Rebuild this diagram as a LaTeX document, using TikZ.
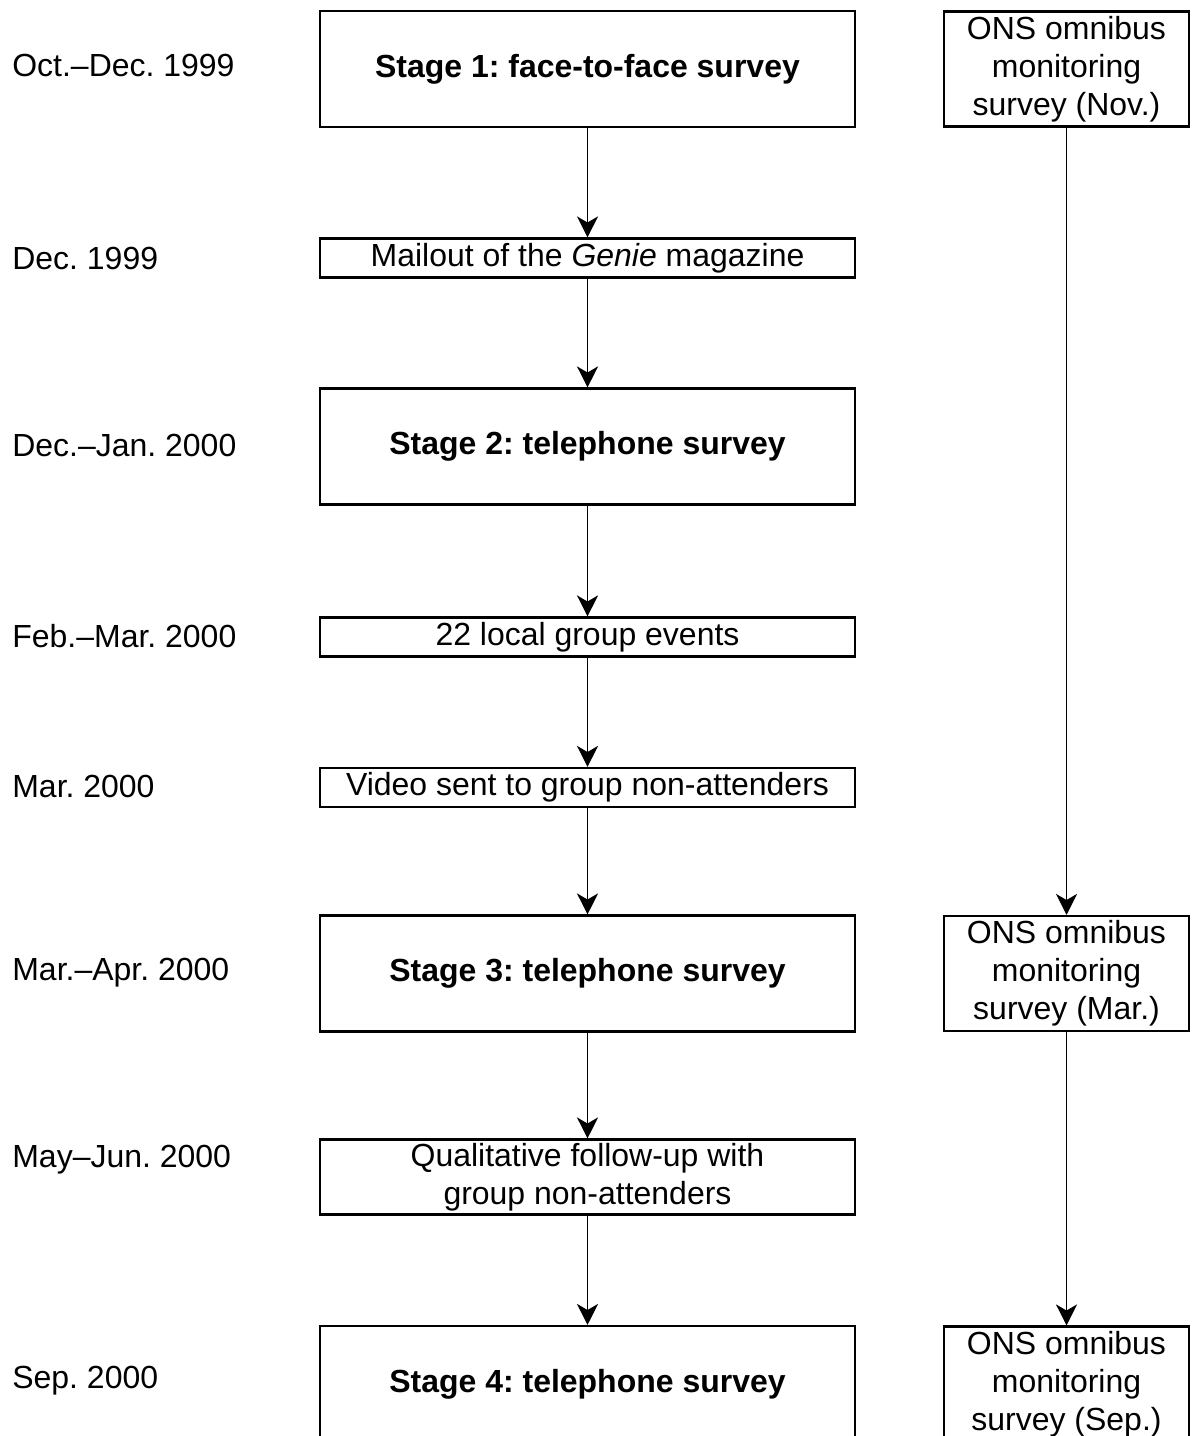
\documentclass[tikz,border=0pt]{standalone}
\usepackage{fontspec}
\setmainfont{Liberation Sans}
\usetikzlibrary{arrows.meta}
\frenchspacing
\newcommand{\boxfont}{\fontsize{18.2}{21.6}\selectfont}
\tikzset{
  stagebox/.style={draw, line width=1.2pt, minimum width=10.7cm, minimum height=2.32cm,
    inner sep=0pt, align=center, font=\boxfont\bfseries},
  eventbox/.style={draw, line width=1.2pt, minimum width=10.7cm, minimum height=0.78cm,
    inner sep=0pt, align=center, font=\boxfont},
  onsbox/.style={draw, line width=1.2pt, minimum width=4.9cm, minimum height=2.3cm,
    inner sep=0pt, align=center, font=\boxfont},
  datelabel/.style={anchor=west, inner sep=0pt, font=\boxfont},
  flowarrow/.style={line width=0.75pt, -{Stealth[length=12pt, width=12pt, inset=3.5pt]}}
}
\begin{document}
\begin{tikzpicture}[x=0.02cm, y=-0.02cm]
\clip (0,0) rectangle (1191,1436);
% dates
\node[datelabel] (d1) at (12,65) {Oct.--Dec. 1999};
\node[datelabel] (d2) at (12,258) {Dec. 1999};
\node[datelabel] (d3) at (12,445) {Dec.--Jan. 2000};
\node[datelabel] (d4) at (12,636) {Feb.--Mar. 2000};
\node[datelabel] (d5) at (12,786) {Mar. 2000};
\node[datelabel] (d6) at (12,973) {Mar.--Apr. 2000};
\node[datelabel] (d7) at (12,1160) {May--Jun. 2000};
\node[datelabel] (d8) at (12,1381) {Sep. 2000};
% main column
\node[stagebox] (stage1) at (587.5,69) {Stage 1: face-to-face survey};
\node[eventbox] (mailout) at (587.5,258) {Mailout of the \textit{Genie} magazine};
\node[stagebox] (stage2) at (587.5,446.5) {Stage 2: telephone survey};
\node[eventbox] (events) at (587.5,637) {22 local group events};
\node[eventbox] (video) at (587.5,787.5) {Video sent to group non-attenders};
\node[stagebox] (stage3) at (587.5,973.5) {Stage 3: telephone survey};
\node[eventbox, minimum height=1.5cm] (followup) at (587.5,1177) {Qualitative follow-up with\\group non-attenders};
\node[stagebox] (stage4) at (587.5,1384) {Stage 4: telephone survey};
% ONS column
\node[onsbox] (ons1) at (1066.5,69) {ONS omnibus\\monitoring\\survey (Nov.)};
\node[onsbox] (ons2) at (1066.5,973.5) {ONS omnibus\\monitoring\\survey (Mar.)};
\node[onsbox] (ons3) at (1066.5,1384) {ONS omnibus\\monitoring\\survey (Sep.)};
% arrows
\draw[flowarrow] (stage1.south) -- (mailout.north);
\draw[flowarrow] (mailout.south) -- (stage2.north);
\draw[flowarrow] (stage2.south) -- (events.north);
\draw[flowarrow] (events.south) -- (video.north);
\draw[flowarrow] (video.south) -- (stage3.north);
\draw[flowarrow] (stage3.south) -- (followup.north);
\draw[flowarrow] (followup.south) -- (stage4.north);
\draw[flowarrow] (ons1.south) -- (ons2.north);
\draw[flowarrow] (ons2.south) -- (ons3.north);
\end{tikzpicture}
\end{document}
